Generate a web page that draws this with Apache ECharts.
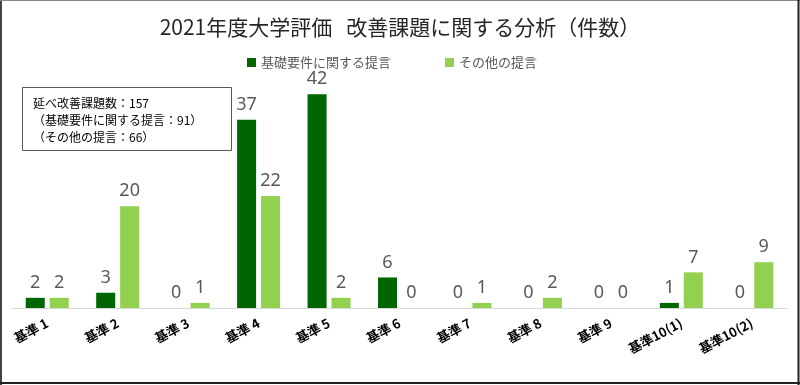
<!DOCTYPE html>
<html>
<head>
<meta charset="utf-8">
<script src="https://cdn.jsdelivr.net/npm/echarts@6/dist/echarts.min.js"></script>
<style>
html,body{margin:0;padding:0;background:#fff;}
#c{width:800px;height:385px;}
</style>
</head>
<body>
<div id="c"></div>
<script>
const categories = ['基準 1','基準 2','基準 3','基準 4','基準 5','基準 6','基準 7','基準 8','基準 9','基準10(1)','基準10(2)'];
const seriesNames = ['基礎要件に関する提言','その他の提言'];
const basicValues = [2,3,0,37,42,6,0,0,0,1,0];
const otherValues = [2,20,1,22,2,0,1,2,0,7,9];
const titleText = '2021年度大学評価   改善課題に関する分析（件数）';
const noteLines = ['延べ改善課題数：157','（基礎要件に関する提言：91）','（その他の提言：66）'];

const chart = echarts.init(document.getElementById('c'), null, {renderer:'canvas'});
const jp = '"Noto Sans CJK JP", "Noto Sans", sans-serif';
const numFont = '"Liberation Sans Narrow", "Noto Sans", sans-serif';
const labelCfg = {
  show:true, position:'top', distance:6,
  color:'#595959', fontSize:18, fontFamily:numFont
};
chart.setOption({
  animation:false,
  backgroundColor:'#fff',
  title:{
    text:titleText, left:'center', top:12,
    textStyle:{fontFamily:jp, fontSize:21, fontWeight:'normal', color:'#262626'}
  },
  legend:{
    data:seriesNames, top:51, left:242, itemGap:54,
    itemWidth:9, itemHeight:9, icon:'rect',
    textStyle:{fontFamily:jp, fontSize:13, color:'#595959'}
  },
  grid:{left:12, right:13, top:79, bottom:77},
  xAxis:{
    type:'category', data:categories,
    axisLine:{lineStyle:{color:'#d9d9d9', width:1}},
    axisTick:{show:false},
    axisLabel:{rotate:28, margin:14, interval:0, fontFamily:jp, fontSize:13, fontWeight:'bold', color:'#000'}
  },
  yAxis:{type:'value', min:0, max:45, show:false},
  series:[
    {name:seriesNames[0], type:'bar', data:basicValues, barWidth:'27%', barGap:'26%',
     itemStyle:{color:'#006600'}, label:labelCfg},
    {name:seriesNames[1], type:'bar', data:otherValues, barWidth:'27%',
     itemStyle:{color:'#92D050'}, label:labelCfg}
  ],
  graphic:[
    {type:'rect', shape:{x:22.5, y:87.5, width:209, height:63},
     style:{fill:'#fff', stroke:'#595959', lineWidth:1}, z:10},
    {type:'text', left:33, top:95, z:11,
     style:{text:noteLines.join('\n'), font:'12px "Noto Sans CJK JP", sans-serif', fill:'#000', lineHeight:17}},
    {type:'line', shape:{x1:1, y1:0, x2:1, y2:385}, style:{stroke:'#444', lineWidth:2}, z:20},
    {type:'line', shape:{x1:0, y1:0.5, x2:800, y2:0.5}, style:{stroke:'#888', lineWidth:1}, z:20},
    {type:'line', shape:{x1:798.5, y1:0, x2:798.5, y2:385}, style:{stroke:'#222', lineWidth:2}, z:20},
    {type:'line', shape:{x1:0, y1:383, x2:800, y2:383}, style:{stroke:'#222', lineWidth:2}, z:20}
  ]
});
</script>
</body>
</html>
